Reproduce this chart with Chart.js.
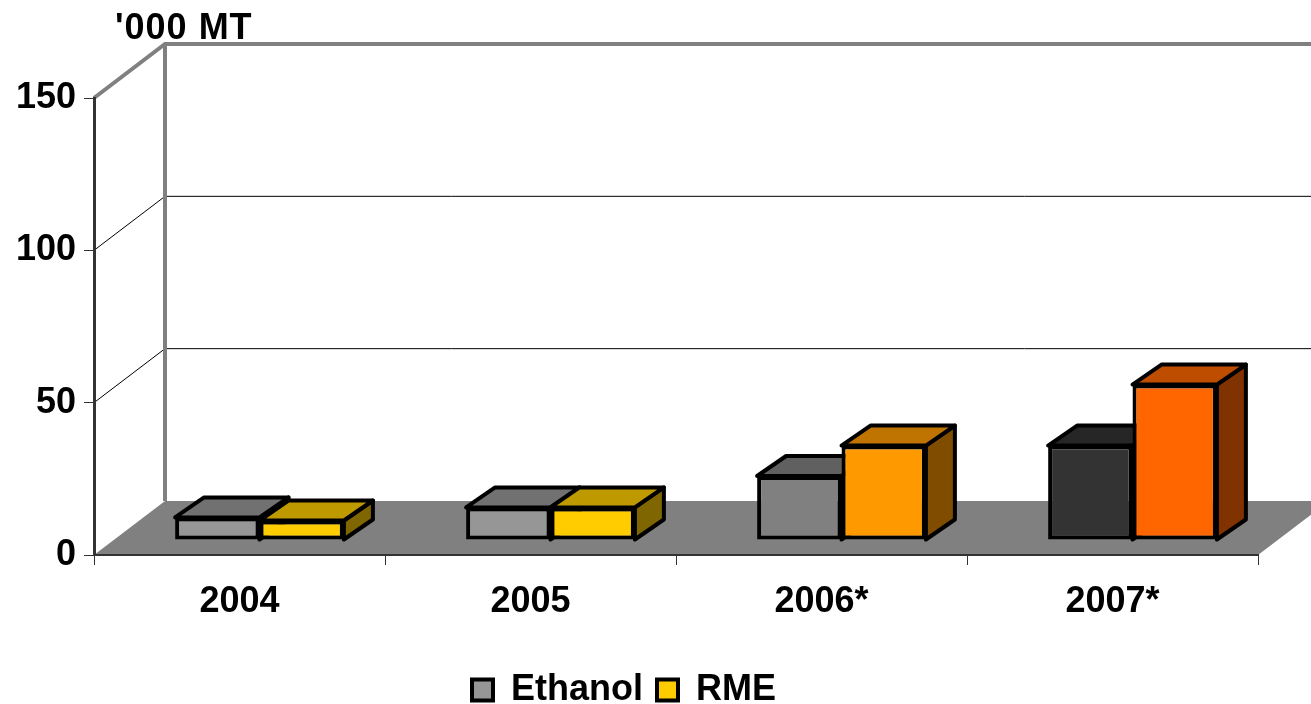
<!DOCTYPE html>
<html>
<head>
<meta charset="utf-8">
<style>
  html, body { margin: 0; padding: 0; background: #fff; overflow: hidden; }
</style>
<script src="https://cdn.jsdelivr.net/npm/chart.js@4"></script>
</head>
<body>
<canvas id="biofuelChart" width="1311" height="704"></canvas>
<script>
var years = ['2004', '2005', '2006*', '2007*'];
var ethanol = [7.4, 10.7, 21, 31];
var rme = [6.4, 10.7, 31, 51];
var ethanolColors = ['#969696', '#969696', '#808080', '#333333'];
var rmeColors = ['#FFCC00', '#FFCC00', '#FF9900', '#FF6600'];
var yTicks = [0, 50, 100, 150];
var unitLabel = "'000 MT";

var fontName = '"Liberation Sans", Arial, sans-serif';

// how far the walls and the bars are pushed back, in pixels
var wallDepth = { x: 71, y: -54 };
var barOffset = { x: 20, y: -15 };
var barDepth = { x: 29, y: -20 };

function shade(hex, f) {
    var n = parseInt(hex.slice(1), 16);
    var r = Math.round((n >> 16 & 255) * f);
    var g = Math.round((n >> 8 & 255) * f);
    var b = Math.round((n & 255) * f);
    return 'rgb(' + r + ',' + g + ',' + b + ')';
}

function poly(ctx, pts, fill) {
    ctx.beginPath();
    pts.forEach(function (p, i) {
        if (i === 0) ctx.moveTo(p[0], p[1]);
        else ctx.lineTo(p[0], p[1]);
    });
    ctx.closePath();
    ctx.fillStyle = fill;
    ctx.fill();
    ctx.stroke();
}

var box3d = {
    id: 'box3d',
    afterLayout: function (chart) {
        // legend sits lower and further left than the layout would put it
        chart.legend.top += 14;
        chart.legend.bottom += 14;
        chart.legend.left -= 5;
        chart.legend.right -= 5;
    },
    beforeDatasetsDraw: function (chart) {
        var ctx = chart.ctx, a = chart.chartArea, y = chart.scales.y;
        var bx = a.left + wallDepth.x, dy = wallDepth.y;
        ctx.save();

        // floor
        ctx.fillStyle = '#808080';
        ctx.beginPath();
        ctx.moveTo(a.left, a.bottom);
        ctx.lineTo(a.right, a.bottom);
        ctx.lineTo(a.right + wallDepth.x, a.bottom + dy);
        ctx.lineTo(bx, a.bottom + dy);
        ctx.closePath();
        ctx.fill();

        // gridlines on side and back wall
        ctx.strokeStyle = '#000';
        ctx.lineWidth = 1;
        yTicks.slice(1, -1).forEach(function (v) {
            var py = y.getPixelForValue(v);
            ctx.beginPath();
            ctx.moveTo(a.left, py);
            ctx.lineTo(bx, py + dy);
            ctx.lineTo(chart.width, py + dy);
            ctx.stroke();
        });

        // wall edges
        var top = y.getPixelForValue(yTicks[yTicks.length - 1]);
        ctx.strokeStyle = '#808080';
        ctx.lineWidth = 4;
        ctx.beginPath();
        ctx.moveTo(a.left, top);
        ctx.lineTo(bx, top + dy);
        ctx.lineTo(chart.width, top + dy);
        ctx.moveTo(bx, top + dy);
        ctx.lineTo(bx, a.bottom + dy);
        ctx.stroke();
        ctx.restore();
    },
    beforeDatasetDraw: function () {
        return false;   // drawn below instead, so that RME lands on top of Ethanol
    },
    afterDatasetsDraw: function (chart) {
        var ctx = chart.ctx;
        chart.data.datasets.forEach(function (ds, i) {
            var meta = chart.getDatasetMeta(i);
            ctx.save();
            ctx.translate(barOffset.x, barOffset.y);
            ctx.strokeStyle = '#000';
            ctx.lineWidth = 4;
            ctx.lineJoin = 'round';
            meta.data.forEach(function (bar, k) {
                var p = bar.getProps(['x', 'y', 'base', 'width'], true);
                var l = p.x - p.width / 2, r = p.x + p.width / 2;
                var col = ds.backgroundColor[k];
                var dx = barDepth.x, dy = barDepth.y;
                poly(ctx, [[r, p.y], [r + dx, p.y + dy], [r + dx, p.base + dy], [r, p.base]], shade(col, 0.5));
                poly(ctx, [[l, p.y], [l + dx, p.y + dy], [r + dx, p.y + dy], [r, p.y]], shade(col, 0.75));
            });
            meta.controller.draw();
            ctx.restore();
        });

        // unit label above the axis
        ctx.save();
        ctx.fillStyle = '#000';
        ctx.font = 'bold 36px ' + fontName;
        ctx.letterSpacing = '1px';
        ctx.textBaseline = 'middle';
        ctx.fillText(unitLabel, 115, 29);
        ctx.restore();
    }
};

var biofuelChart = new Chart(document.getElementById('biofuelChart'), {
    type: 'bar',
    data: {
        labels: years,
        datasets: [
            { label: 'Ethanol', data: ethanol, backgroundColor: ethanolColors, borderColor: '#000', borderWidth: 4, borderSkipped: false },
            { label: 'RME', data: rme, backgroundColor: rmeColors, borderColor: '#000', borderWidth: 4, borderSkipped: false }
        ]
    },
    options: {
        responsive: false,
        animation: false,
        layout: { padding: { top: 98, right: 53, left: 0, bottom: 0 } },
        datasets: { bar: { barPercentage: 1, categoryPercentage: 0.58 } },
        scales: {
            x: {
                afterFit: function (s) { s.height = 89; },
                grid: { drawOnChartArea: false, color: '#333', tickLength: 10, lineWidth: 1, z: 1 },
                border: { color: '#333', width: 2, z: 1 },
                ticks: { color: '#000', padding: 15, maxRotation: 0, font: { family: fontName, size: 36, weight: 'bold' } }
            },
            y: {
                min: 0,
                max: 150,
                afterFit: function (s) { s.width = 94; },
                afterBuildTicks: function (s) { s.ticks = yTicks.map(function (v) { return { value: v }; }); },
                grid: { drawOnChartArea: false, color: '#333', tickLength: 10, lineWidth: 1, z: 1 },
                border: { color: '#333', width: 3, z: 1 },
                ticks: { color: '#000', padding: 8, font: { family: fontName, size: 36, weight: 'bold' } }
            }
        },
        plugins: {
            tooltip: { enabled: false },
            legend: {
                position: 'bottom',
                labels: {
                    color: '#000',
                    boxWidth: 21,
                    boxHeight: 21,
                    padding: 14,
                    font: { family: fontName, size: 36, weight: 'bold' },
                    generateLabels: function (chart) {
                        return chart.data.datasets.map(function (ds, i) {
                            return {
                                text: ds.label,
                                fillStyle: ds.backgroundColor[0],
                                strokeStyle: '#000',
                                lineWidth: 4,
                                fontColor: '#000',
                                datasetIndex: i
                            };
                        });
                    }
                }
            }
        }
    },
    plugins: [box3d]
});
</script>
</body>
</html>
